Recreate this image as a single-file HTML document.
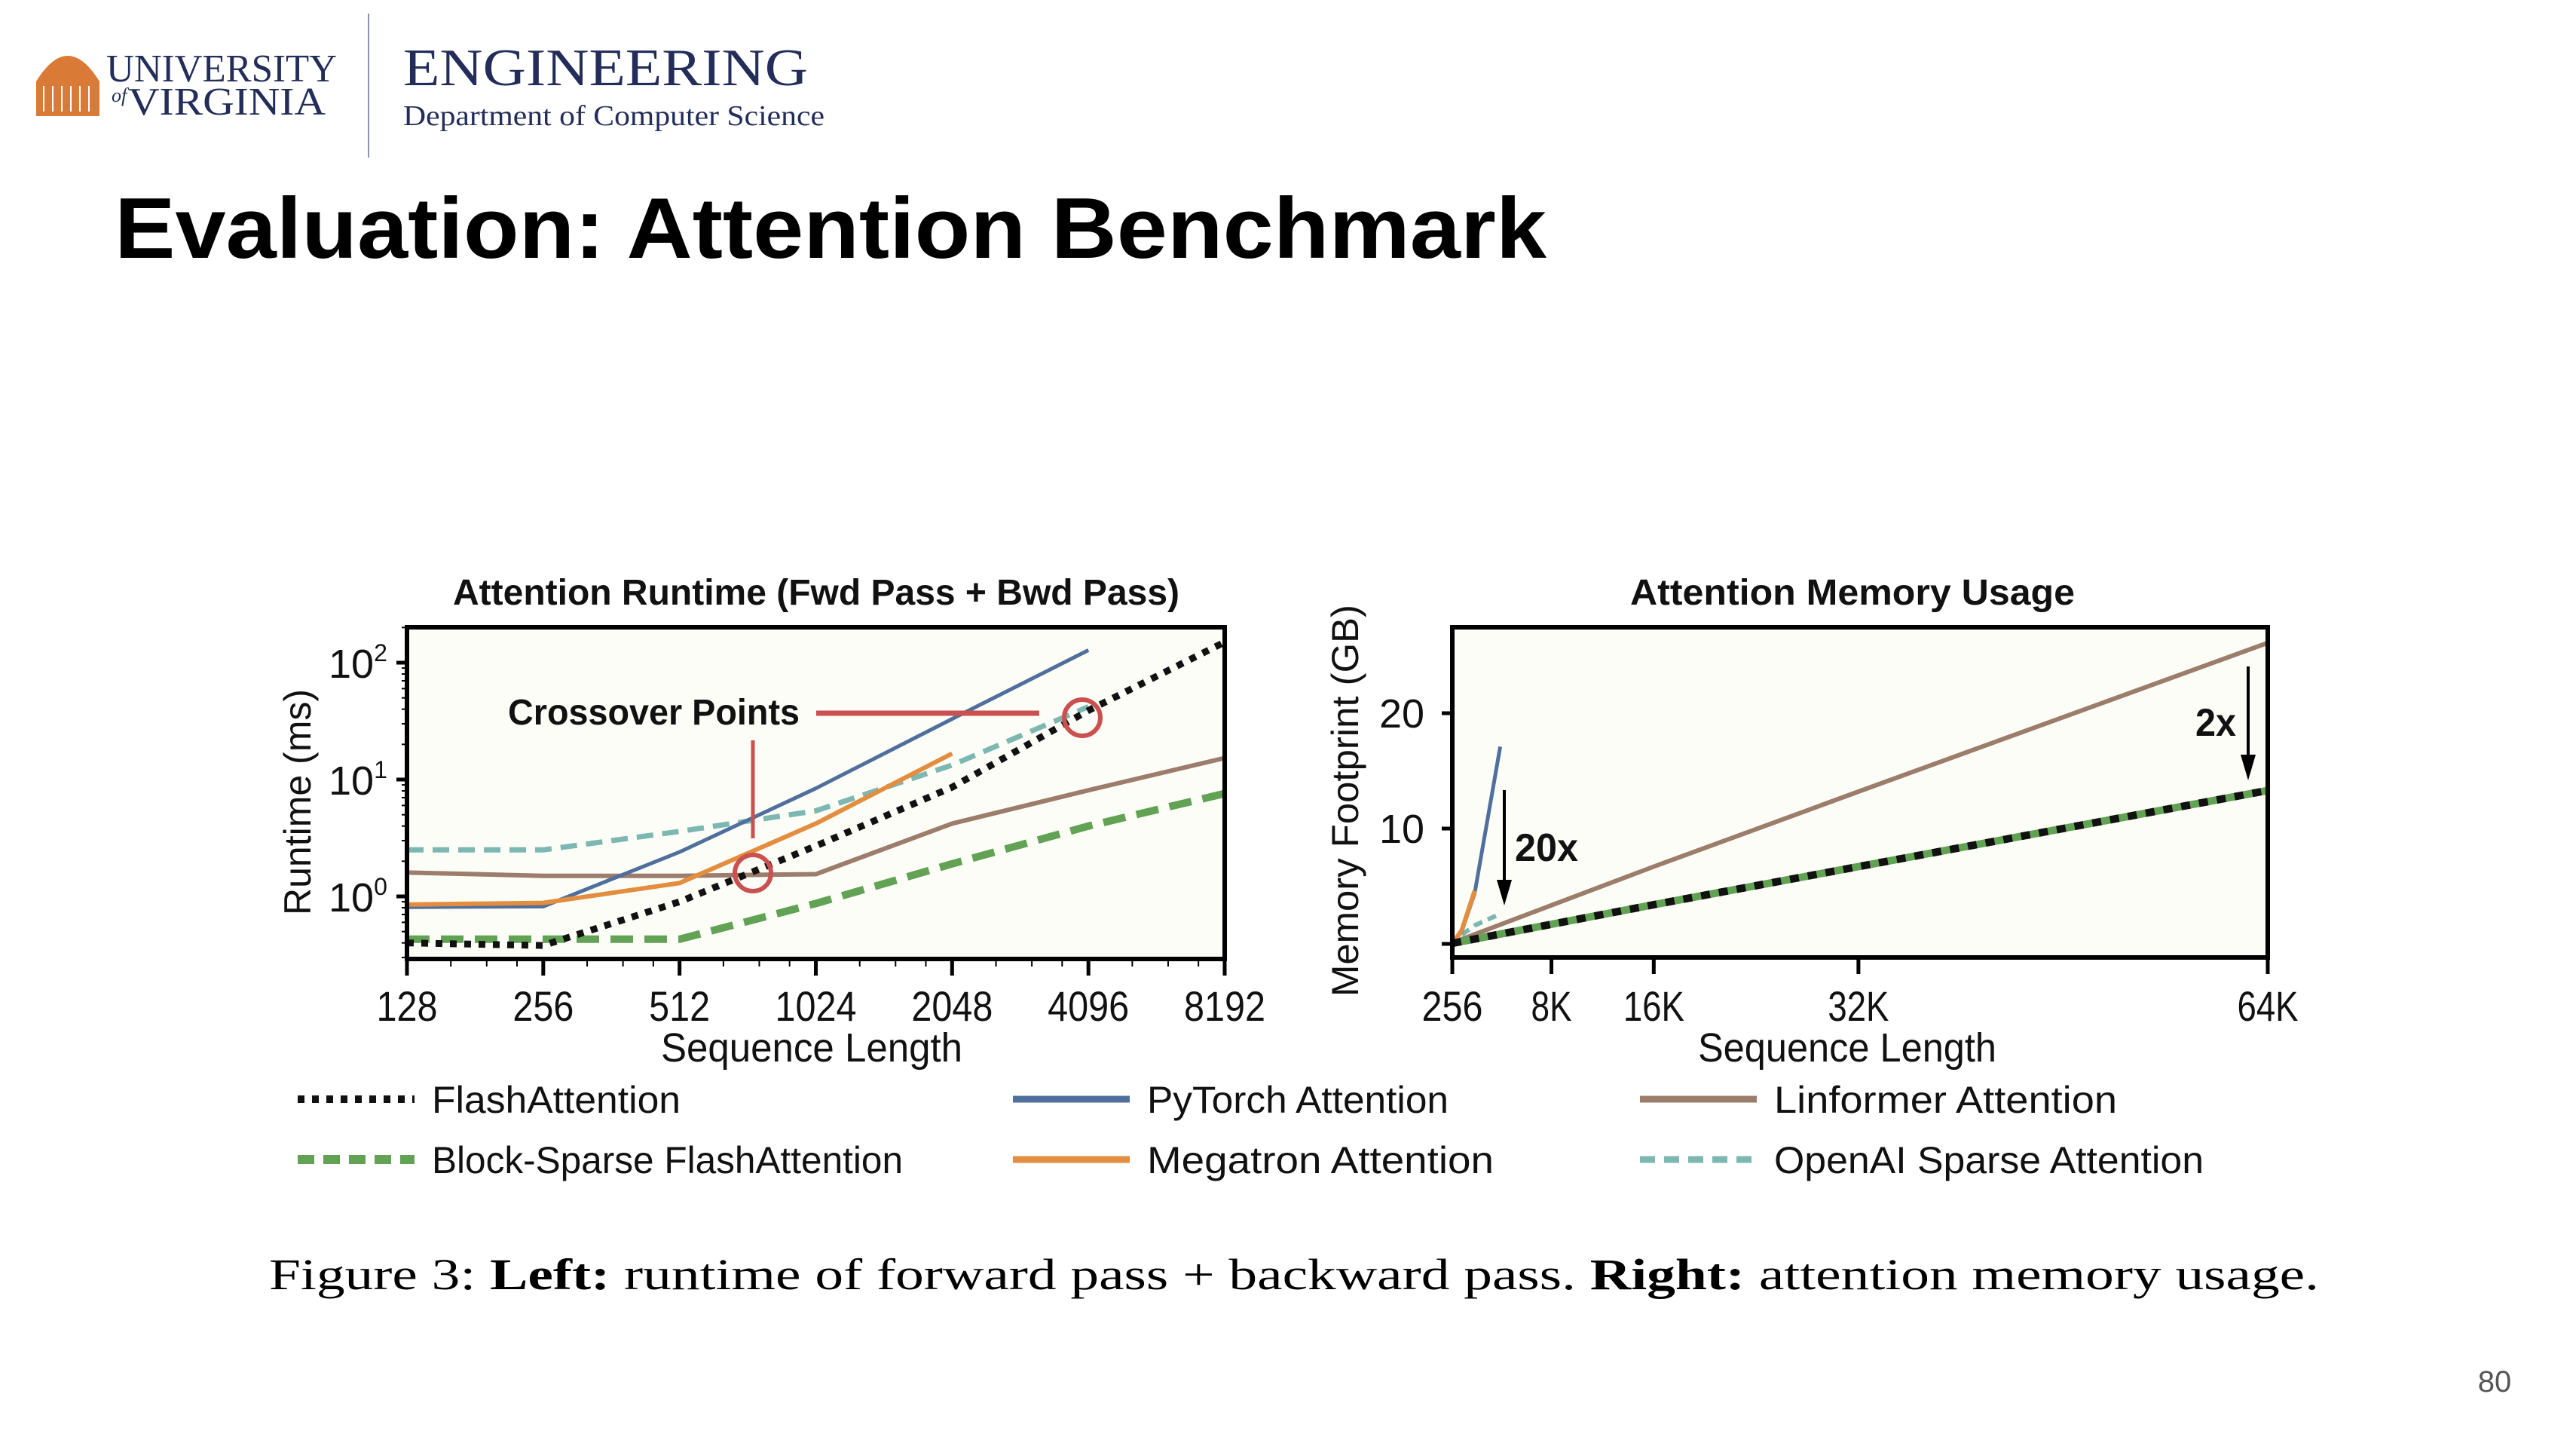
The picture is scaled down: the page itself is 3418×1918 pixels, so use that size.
<!DOCTYPE html>
<html><head><meta charset="utf-8"><style>
html,body{margin:0;padding:0;background:#fff;}
svg{display:block;font-family:"Liberation Sans",sans-serif;}
</style></head><body>
<svg id="s" width="3418" height="1918" viewBox="0 0 3418 1918" xmlns="http://www.w3.org/2000/svg">
<rect width="3418" height="1918" fill="#fff"/>
<g>
  <path d="M48 108 Q90 40 132 108 Z" fill="#d97a36"/>
  <rect x="48" y="108" width="84" height="46" fill="#d97a36"/>
  <g stroke="#fff" stroke-width="2">
    <line x1="58" y1="114" x2="58" y2="148"/><line x1="70" y1="114" x2="70" y2="148"/><line x1="82" y1="114" x2="82" y2="148"/><line x1="94" y1="114" x2="94" y2="148"/><line x1="106" y1="114" x2="106" y2="148"/><line x1="118" y1="114" x2="118" y2="148"/>
  </g>
  <text x="141" y="108" font-family="Liberation Serif" font-size="52" fill="#232d5a" textLength="306" lengthAdjust="spacingAndGlyphs">UNIVERSITY</text>
  <text x="170" y="152" font-family="Liberation Serif" font-size="52" fill="#232d5a" textLength="262" lengthAdjust="spacingAndGlyphs">VIRGINIA</text>
  <text x="148" y="135" font-family="Liberation Serif" font-style="italic" font-size="26" fill="#232d5a">of</text>
</g>
<line x1="489" y1="18" x2="489" y2="209" stroke="#8a93b0" stroke-width="2"/>
<text x="535" y="113" font-family="Liberation Serif" font-size="70" fill="#232d5a" textLength="537" lengthAdjust="spacingAndGlyphs">ENGINEERING</text>
<text x="535" y="166" font-family="Liberation Serif" font-size="38" fill="#232d5a" textLength="559" lengthAdjust="spacingAndGlyphs">Department of Computer Science</text>
<text x="152" y="342" font-weight="bold" font-size="114" fill="#000" textLength="1900" lengthAdjust="spacingAndGlyphs">Evaluation: Attention Benchmark</text>
<g id="left"></g>
<g id="right"></g>
<g id="legend"></g>
<text x="357" y="1710" font-family="Liberation Serif" font-size="58" fill="#000" textLength="2720" lengthAdjust="spacingAndGlyphs">Figure 3: <tspan font-weight="bold">Left:</tspan> runtime of forward pass + backward pass. <tspan font-weight="bold">Right:</tspan> attention memory usage.</text>
<text x="3310" y="1846" font-size="40" fill="#555" text-anchor="middle">80</text>
</svg>
<script>
const NS="http://www.w3.org/2000/svg";
// ---- left chart data (runtime, ms) ----
const seqLens=[128,256,512,1024,2048,4096,8192];
const flashRt=[0.4,0.38,0.9,2.7,8.6,39,150];
const blockSparseRt=[0.43,0.43,0.43,0.87,1.9,4,7.6];
const pytorchRt=[0.81,0.82,2.4,8.4,33,128];
const megatronRt=[0.85,0.88,1.3,4.2,16.7];
const linformerRt=[1.6,1.5,1.5,1.55,4.2,8.1,15.3];
const openaiRt=[2.5,2.5,3.6,5.4,13.3,42];
const yTickExps=[0,1,2];
// ---- right chart data (memory, GB) ----
const memTicks=[256,8192,16384,32768,65536];
const memTickLabels=["256","8K","16K","32K","64K"];
const memYTicks=[10,20];
const flashMemX=[256,8192,16384,32768,65536];
const flashMem=[0.05,1.7,3.4,6.7,13.3];
const linformerMemX=[256,16384,32768,65536];
const linformerMem=[0.1,6.7,13.2,26.1];
const pytorchMemX=[256,1024,2048,4096];
const pytorchMem=[0,1.1,4.4,17.1];
const megatronMemX=[256,1024,2048];
const megatronMem=[0,1.2,4.6];
const openaiMemX=[1024,2048,4096];
const openaiMem=[0.8,1.6,2.6];

function el(parent,tag,attrs,text){const e=document.createElementNS(NS,tag);for(const k in attrs)e.setAttribute(k,attrs[k]);if(text!==undefined)e.textContent=text;parent.appendChild(e);return e;}
const C={blue:"#4f6f9c",orange:"#e38d3f",brown:"#9c7d6b",teal:"#7cb7b1",green:"#62a254",red:"#c9514f",black:"#111"};

const L={x0:540,x1:1625,y0:832,y1:1272};
const lx=v=>L.x0+Math.log2(v/128)*(L.x1-L.x0)/6;
const ly=v=>1189-155*Math.log10(v);
const left=document.getElementById('left');
let r=el(left,'rect',{x:L.x0,y:L.y0,width:L.x1-L.x0,height:L.y1-L.y0,fill:"#fdfdf7"});

function series(g,xs,ys,fx,fy,color,w,dash,name){
  const d=ys.map((v,i)=>(i?'L':'M')+fx(xs[i]).toFixed(1)+' '+fy(v).toFixed(1)).join(' ');
  const p=el(g,'path',{d:d,fill:'none',stroke:color,'stroke-width':w,'stroke-dasharray':dash||'none','stroke-linejoin':'round'});
  
  
}
series(left,seqLens,linformerRt,lx,ly,C.brown,6,null,'linformer-runtime-line');
series(left,seqLens,openaiRt,lx,ly,C.teal,7,'22 12','openai-sparse-runtime-line');
series(left,seqLens,pytorchRt,lx,ly,C.blue,5,null,'pytorch-runtime-line');
series(left,seqLens,megatronRt,lx,ly,C.orange,6,null,'megatron-runtime-line');
series(left,seqLens,blockSparseRt,lx,ly,C.green,10,'30 15','block-sparse-runtime-line');
series(left,seqLens,flashRt,lx,ly,C.black,9,'9 10','flash-runtime-line');
let a=el(left,'line',{x1:1083,y1:946,x2:1379,y2:946,stroke:C.red,'stroke-width':7});

a=el(left,'line',{x1:999,y1:982,x2:999,y2:1112,stroke:C.red,'stroke-width':5});

a=el(left,'ellipse',{cx:1436,cy:952,rx:24,ry:24,fill:'none',stroke:C.red,'stroke-width':6});

a=el(left,'ellipse',{cx:999,cy:1158,rx:24,ry:24,fill:'none',stroke:C.red,'stroke-width':6});

a=el(left,'text',{x:674,y:961,'font-size':48,'font-weight':'bold',fill:'#111',textLength:387,lengthAdjust:'spacingAndGlyphs'},'Crossover Points');

a=el(left,'rect',{x:L.x0,y:L.y0,width:L.x1-L.x0,height:L.y1-L.y0,fill:'none',stroke:'#000','stroke-width':6});

seqLens.forEach((v,i)=>{
  const x=lx(v);
  el(left,'line',{x1:x,y1:L.y1,x2:x,y2:L.y1+22,stroke:'#000','stroke-width':5});
  if(i<6){for(const f of [1.25,1.5,1.75]){const xm=lx(v*f);el(left,'line',{x1:xm,y1:L.y1,x2:xm,y2:L.y1+10,stroke:'#000','stroke-width':2});}}
  const t=el(left,'text',{x:x,y:1354,'font-size':56,'text-anchor':'middle',fill:'#111',textLength:String(v).length*27,lengthAdjust:'spacingAndGlyphs'},String(v));
  
});
yTickExps.forEach(e=>{
  const y=ly(Math.pow(10,e));
  el(left,'line',{x1:L.x0-14,y1:y,x2:L.x0,y2:y,stroke:'#000','stroke-width':5});
  const t=el(left,'text',{x:436,y:y+20,'font-size':54,fill:'#111'},'10');
  el(t,'tspan',{dy:-22,'font-size':32},String(e));
  
});
for(let e=-1;e<=2;e++)for(let m=2;m<=9;m++){const y=ly(m*Math.pow(10,e));if(y>L.y0&&y<L.y1)el(left,'line',{x1:L.x0-7,y1:y,x2:L.x0,y2:y,stroke:'#000','stroke-width':2});}
a=el(left,'text',{x:1083,y:802,'font-size':48,'font-weight':'bold','text-anchor':'middle',fill:'#111',textLength:964,lengthAdjust:'spacingAndGlyphs'},'Attention Runtime (Fwd Pass + Bwd Pass)');

a=el(left,'text',{x:1077,y:1408,'font-size':54,'text-anchor':'middle',fill:'#111',textLength:400,lengthAdjust:'spacingAndGlyphs'},'Sequence Length');

a=el(left,'text',{x:0,y:0,'font-size':50,'text-anchor':'middle',fill:'#111',transform:'translate(412,1064) rotate(-90)',textLength:300,lengthAdjust:'spacingAndGlyphs'},'Runtime (ms)');


const R={x0:1927,x1:3009,y0:832,y1:1270};
const rx=v=>R.x0+(v-256)/(65536-256)*(R.x1-R.x0);
const ry=v=>1252-15.3*v;
const right=document.getElementById('right');
a=el(right,'rect',{x:R.x0,y:R.y0,width:R.x1-R.x0,height:R.y1-R.y0,fill:'#fdfdf7'});

series(right,linformerMemX,linformerMem,rx,ry,C.brown,6,null,'linformer-memory-line');
series(right,openaiMemX,openaiMem,rx,ry,C.teal,6,'12 8','openai-sparse-memory-line');
series(right,pytorchMemX,pytorchMem,rx,ry,C.blue,5,null,'pytorch-memory-line');
series(right,megatronMemX,megatronMem,rx,ry,C.orange,6,null,'megatron-memory-line');
series(right,flashMemX,flashMem,rx,ry,C.green,10,null,'block-sparse-memory-line');
series(right,flashMemX,flashMem,rx,ry,C.black,10,'12 12','flash-memory-line');
function arrow(g,x,y1,y2,name){
  const p=el(g,'line',{x1:x,y1:y1,x2:x,y2:y2-30,stroke:'#000','stroke-width':4});
  
  const h=el(g,'path',{d:`M${x-10} ${y2-34} L${x+10} ${y2-34} L${x} ${y2} Z`,fill:'#000'});
  
}
arrow(right,1996,1048,1201,'arrow-20x');
arrow(right,2983,884,1035,'arrow-2x');
a=el(right,'text',{x:2010,y:1142,'font-size':52,'font-weight':'bold',fill:'#111',textLength:84,lengthAdjust:'spacingAndGlyphs'},'20x');

a=el(right,'text',{x:2913,y:976,'font-size':52,'font-weight':'bold',fill:'#111',textLength:54,lengthAdjust:'spacingAndGlyphs'},'2x');

a=el(right,'rect',{x:R.x0,y:R.y0,width:R.x1-R.x0,height:R.y1-R.y0,fill:'none',stroke:'#000','stroke-width':6});

memTicks.forEach((v,i)=>{
  const x=rx(v);
  el(right,'line',{x1:x,y1:R.y1,x2:x,y2:R.y1+22,stroke:'#000','stroke-width':5});
  const t=el(right,'text',{x:x,y:1354,'font-size':56,'text-anchor':'middle',fill:'#111',textLength:memTickLabels[i].length*27,lengthAdjust:'spacingAndGlyphs'},memTickLabels[i]);
  
});
el(right,'line',{x1:R.x0-14,y1:ry(0),x2:R.x0,y2:ry(0),stroke:'#000','stroke-width':5});
memYTicks.forEach(v=>{
  const y=ry(v);
  el(right,'line',{x1:R.x0-14,y1:y,x2:R.x0,y2:y,stroke:'#000','stroke-width':5});
  const t=el(right,'text',{x:1890,y:y+19,'font-size':54,'text-anchor':'end',fill:'#111',textLength:60,lengthAdjust:'spacingAndGlyphs'},String(v));
  
});
a=el(right,'text',{x:2458,y:802,'font-size':48,'font-weight':'bold','text-anchor':'middle',fill:'#111',textLength:590,lengthAdjust:'spacingAndGlyphs'},'Attention Memory Usage');

a=el(right,'text',{x:2451,y:1408,'font-size':54,'text-anchor':'middle',fill:'#111',textLength:396,lengthAdjust:'spacingAndGlyphs'},'Sequence Length');

a=el(right,'text',{x:0,y:0,'font-size':50,'text-anchor':'middle',fill:'#111',transform:'translate(1802,1062) rotate(-90)',textLength:520,lengthAdjust:'spacingAndGlyphs'},'Memory Footprint (GB)');


const legNames=['FlashAttention','Block-Sparse FlashAttention','PyTorch Attention','Megatron Attention','Linformer Attention','OpenAI Sparse Attention'];
const legColors=[C.black,C.green,C.blue,C.orange,C.brown,C.teal];
const legDash=['9 10','22 12',null,null,null,'20 12'];
const legW=[10,12,9,9,9,9];
const legTextLen=[330,625,400,460,455,570];
const legX=[395,395,1344,1344,2176,2176];
const legY=[1458,1538,1458,1538,1458,1538];
const lg=document.getElementById('legend');
legNames.forEach((n,i)=>{
  const l=el(lg,'line',{x1:legX[i],y1:legY[i],x2:legX[i]+155,y2:legY[i],stroke:legColors[i],'stroke-width':legW[i],'stroke-dasharray':legDash[i]||'none'});
  
  
  const t=el(lg,'text',{x:legX[i]+178,y:legY[i]+18,'font-size':50,fill:'#111',textLength:legTextLen[i],lengthAdjust:'spacingAndGlyphs'},n);
  
  
});
</script>
</body></html>
